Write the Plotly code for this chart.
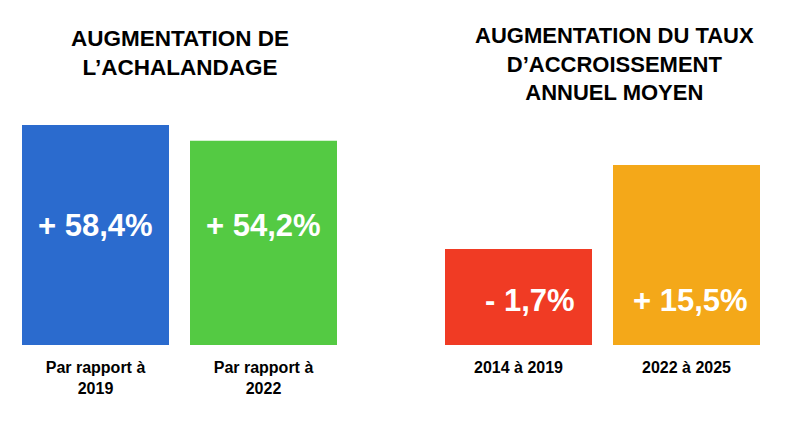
import plotly.graph_objects as go

# Data
left_title = "AUGMENTATION DE<br>L’ACHALANDAGE"
right_title = "AUGMENTATION DU TAUX<br>D’ACCROISSEMENT<br>ANNUEL MOYEN"
left_categories = ["Par rapport à<br>2019", "Par rapport à<br>2022"]
left_values = [58.4, 54.2]
left_labels = ["+ 58,4%", "+ 54,2%"]
right_categories = ["2014 à 2019", "2022 à 2025"]
right_heights = [5.33, 10.0]   # bar heights as drawn
right_labels = ["- 1,7%", "+ 15,5%"]
left_colors = ["#2B6BCE", "#54CA43"]
right_colors = ["#F03B24", "#F4A819"]

FONT = "Liberation Sans, Arial, sans-serif"
W, H = 796, 423
y_dom = [78 / H, 298 / H]

fig = go.Figure()
fig.add_trace(go.Bar(x=left_categories, y=left_values, marker=dict(color=left_colors, line_width=0),
                     xaxis="x", yaxis="y", hoverinfo="skip"))
fig.add_trace(go.Bar(x=right_categories, y=right_heights, marker=dict(color=right_colors, line_width=0),
                     xaxis="x2", yaxis="y2", hoverinfo="skip"))

annotations = []
# titles
annotations.append(dict(text="<b>" + left_title + "</b>", x=179.5 / W, y=1 - 24 / H, xref="paper", yref="paper",
                        xanchor="center", yanchor="top", showarrow=False,
                        font=dict(family=FONT, size=22.5, color="#000000")))
annotations.append(dict(text="<b>" + right_title + "</b>", x=614.5 / W, y=1 - 21 / H, xref="paper", yref="paper",
                        xanchor="center", yanchor="top", showarrow=False,
                        font=dict(family=FONT, size=22, color="#000000")))
# value labels
for cat, lab in zip(left_categories, left_labels):
    annotations.append(dict(text="<b>" + lab + "</b>", x=cat, xref="x", y=1 - 225 / H, yref="paper",
                            showarrow=False, xanchor="center", yanchor="middle",
                            font=dict(family=FONT, size=31, color="#FFFFFF")))
shifts = [11, 4]
for cat, lab, s in zip(right_categories, right_labels, shifts):
    annotations.append(dict(text="<b>" + lab + "</b>", x=cat, xref="x2", y=1 - 300 / H, yref="paper",
                            showarrow=False, xanchor="center", yanchor="middle", xshift=s,
                            font=dict(family=FONT, size=31, color="#FFFFFF")))

axis_common = dict(showgrid=False, zeroline=False, showline=False, ticks="", ticklabelstandoff=11,
                   tickfont=dict(family=FONT, size=16, color="#000000", weight="bold"), fixedrange=True)

fig.update_layout(
    width=W, height=H,
    margin=dict(l=0, r=0, t=0, b=0),
    paper_bgcolor="white", plot_bgcolor="white",
    showlegend=False, bargap=0.125,
    xaxis=dict(domain=[11.5 / W, 347.5 / W], anchor="y", range=[-0.5, 1.5], **axis_common),
    yaxis=dict(domain=y_dom, range=[0, 58.4], visible=False, fixedrange=True),
    xaxis2=dict(domain=[434.5 / W, 770.5 / W], anchor="y2", range=[-0.5, 1.5], **axis_common),
    yaxis2=dict(domain=y_dom, range=[0, 12.22], visible=False, fixedrange=True),
    annotations=annotations,
)

fig.write_html("out.html", config={"displayModeBar": False},
               post_script="document.body.style.margin='0';")
